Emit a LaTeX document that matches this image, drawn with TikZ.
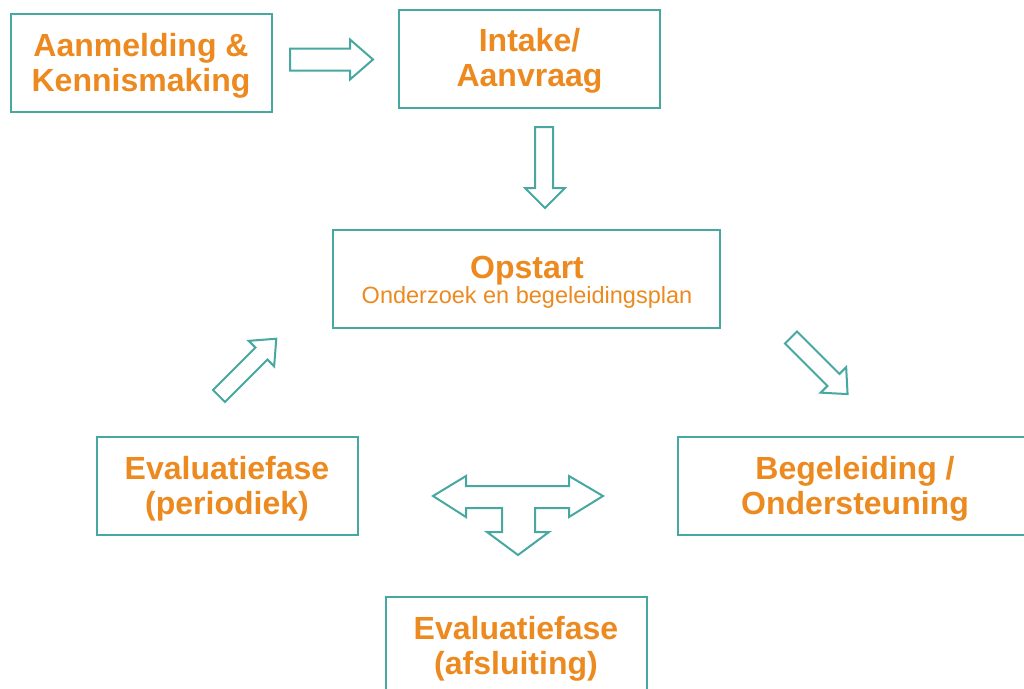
\documentclass[tikz,border=0pt]{standalone}
\usepackage{fontspec}
\setmainfont{Liberation Sans}
\definecolor{tealline}{RGB}{70,168,160}
\definecolor{orangetext}{RGB}{236,138,32}
\tikzset{
  box/.style={draw=tealline, line width=2pt, fill=white, minimum width=261pt,
    minimum height=98pt, inner sep=0pt},
  boxlabel/.style={inner sep=0pt, align=center, text=orangetext,
    font=\fontsize{32}{35}\selectfont\bfseries},
  blockarrow/.style={draw=tealline, line width=2pt, fill=white, line join=miter},
  boxtext/.style={anchor=base, inner sep=0pt, text=orangetext},
}
\begin{document}
\begin{tikzpicture}[x=1pt,y=-1pt]
\useasboundingbox (0,0) rectangle (1024,688);
\clip (0,0) rectangle (1024,688);
\fill[white] (0,0) rectangle (1024,688);

% boxes
\node[box] (b1) at (141,63) {};
\node[boxlabel] (l1) at ([yshift=-3pt]b1.center) {Aanmelding \&\\Kennismaking};
\node[box] (b2) at (529.5,59) {};
\node[boxlabel] (l2) at ([yshift=-2pt]b2.center) {Intake/\\Aanvraag};
\node[box, minimum width=387pt] (b3) at (526.5,279) {};
\node[boxtext, font=\fontsize{32}{35}\selectfont\bfseries] (b3t) at (527,278.5) {Opstart};
\node[boxtext, font=\fontsize{23.5}{24}\selectfont] (b3s) at (527,303.5) {Onderzoek en begeleidingsplan};
\node[box] (b4) at (227,485.5) {};
\node[boxlabel] (l4) at ([yshift=-3pt]b4.center) {Evaluatiefase\\(periodiek)};
\node[box, minimum width=354pt] (b5) at (855,485.5) {};
\node[boxlabel] (l5) at ([yshift=-3pt]b5.center) {Begeleiding /\\Ondersteuning};
\node[box] (b6) at (516,646) {};
\node[boxlabel] (l6) at ([yshift=-3pt]b6.center) {Evaluatiefase\\(afsluiting)};

% right arrow b1 -> b2
\draw[blockarrow] (290,48.5) -- (350,48.5) -- (350,39.5) -- (373,59.5) -- (350,79.5) -- (350,70.5) -- (290,70.5) -- cycle;
% down arrow b2 -> b3
\draw[blockarrow] (535,127) -- (553,127) -- (553,188) -- (565,188) -- (545,208) -- (525,188) -- (535,188) -- cycle;
% up-right arrow b4 -> b3
\begin{scope}[shift={(219,396)}, rotate=45]
  \draw[blockarrow] (0,-8.5) -- (60,-8.5) -- (60,-18) -- (81,0) -- (60,18) -- (60,8.5) -- (0,8.5) -- cycle;
\end{scope}
% down-right arrow b3 -> b5
\begin{scope}[shift={(791,337.5)}, rotate=-45]
  \draw[blockarrow] (0,-8.5) -- (60,-8.5) -- (60,-18) -- (80,0) -- (60,18) -- (60,8.5) -- (0,8.5) -- cycle;
\end{scope}
% T-shaped three-way arrow
\draw[blockarrow] (433,496) -- (466,476) -- (466,486) -- (569,486) -- (569,476) -- (603,496)
  -- (569,517) -- (569,508) -- (535,508) -- (535,532) -- (549,532) -- (518,555)
  -- (487,532) -- (502,532) -- (502,508) -- (466,508) -- (466,517) -- cycle;
\end{tikzpicture}
\end{document}
